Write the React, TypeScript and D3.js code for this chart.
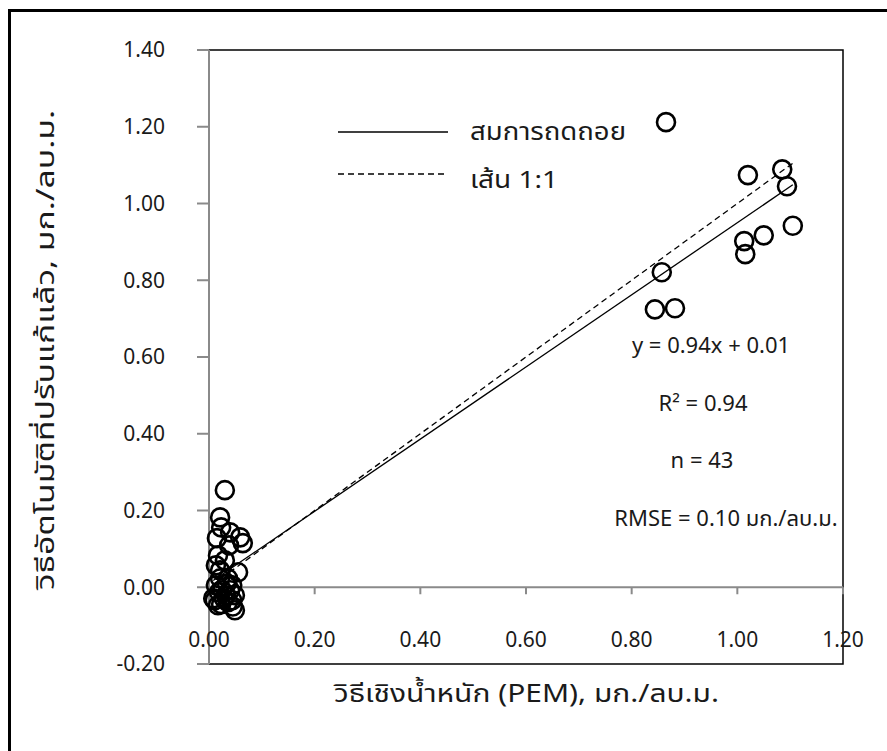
import React from "react";
import * as d3 from "d3";

// PEM (x) and corrected automatic method (y), mg/m3
const pemValues = [
  0.030, 0.021, 0.023, 0.059, 0.064, 0.015, 0.040, 0.017, 0.013, 0.055,
  0.021, 0.013, 0.025, 0.032, 0.011, 0.017, 0.028, 0.040, 0.044, 0.036,
  0.021, 0.030, 0.044, 0.049, 0.036, 0.049, 0.008, 0.019, 0.034, 0.023,
  0.045, 0.038,
  0.865, 1.020, 1.085, 1.094, 1.105, 1.013, 1.015, 1.050, 0.857, 0.844, 0.882,
];
const autoValues = [
  0.253, 0.182, 0.156, 0.130, 0.115, 0.128, 0.143, 0.083, 0.057, 0.039,
  0.023, 0.005, -0.008, -0.021, -0.034, -0.047, -0.029, -0.008, 0.005, 0.023,
  0.044, 0.070, -0.034, -0.021, -0.039, -0.060, -0.029, -0.013, 0.010, -0.044,
  -0.050, 0.109,
  1.212, 1.074, 1.089, 1.045, 0.942, 0.902, 0.868, 0.917, 0.821, 0.724, 0.727,
];

const xTicks = [0, 0.2, 0.4, 0.6, 0.8, 1.0, 1.2];
const yTicks = [-0.2, 0, 0.2, 0.4, 0.6, 0.8, 1.0, 1.2, 1.4];

const slope = 0.94;
const intercept = 0.01;

const legendLabels = ["สมการถดถอย", "เส้น 1:1"];
const statsLines = ["y = 0.94x + 0.01", "R² = 0.94", "n = 43", "RMSE = 0.10 มก./ลบ.ม."];
const xTitle = "วิธีเชิงน้ำหนัก (PEM), มก./ลบ.ม.";
const yTitle = "วิธีอัตโนมัติที่ปรับแก้แล้ว, มก./ลบ.ม.";

const FONT = "'Noto Sans Thai', 'Noto Sans', 'DejaVu Sans', sans-serif";
const GRAY = "#8a8a8a";
const TEXT = "#1a1a1a";

export default function App() {
  const W = 887, H = 751;
  const left = 209, right = 843, top = 50, bottom = 664;
  const x = d3.scaleLinear().domain([0, 1.2]).range([left, right]);
  const y = d3.scaleLinear().domain([-0.2, 1.4]).range([bottom, top]);

  const xMin = d3.min(pemValues) as number;
  const xMax = d3.max(pemValues) as number;
  const line = d3.line<[number, number]>().x(d => x(d[0])).y(d => y(d[1]));
  const regPath = line([[xMin, slope * xMin + intercept], [xMax, slope * xMax + intercept]]) || "";
  const onePath = line([[xMin, xMin], [xMax, xMax]]) || "";

  const statsY = [0.63, 0.48, 0.33, 0.18];
  const statsX = [711, 703, 702, 726];

  return (
    <svg width={W} height={H} style={{ position: "absolute", left: 0, top: 0, background: "#fff" }} fontFamily={FONT}>
      <rect x={0} y={0} width={W} height={H} fill="#fff" />
      {/* outer frame */}
      <rect x={9.5} y={10.5} width={W + 20} height={H + 20} fill="none" stroke="#000" strokeWidth={3} />

      {/* plot border */}
      <path d={`M${left},${top}H${right}V${bottom}H${left}`} fill="none" stroke="#000" strokeWidth={1.5} />
      {/* y axis */}
      <line x1={left} x2={left} y1={top} y2={bottom} stroke={GRAY} strokeWidth={2} />
      {yTicks.map(t => (
        <g key={"yt" + t}>
          <line x1={left - 12} x2={left} y1={y(t)} y2={y(t)} stroke={GRAY} strokeWidth={2} />
          <text x={165} y={y(t)} dy="0.35em" textAnchor="end" fontSize={21} fill={TEXT}>
            {t.toFixed(2)}
          </text>
        </g>
      ))}
      {/* x axis at y=0 */}
      <line x1={left} x2={right} y1={y(0)} y2={y(0)} stroke={GRAY} strokeWidth={2} />
      {xTicks.map(t => (
        <g key={"xt" + t}>
          {t > 0 && <line x1={x(t)} x2={x(t)} y1={y(0)} y2={y(0) + 7} stroke={GRAY} strokeWidth={2} />}
          <text x={x(t)} y={640} dy="0.35em" textAnchor="middle" fontSize={21} fill={TEXT}>
            {t.toFixed(2)}
          </text>
        </g>
      ))}

      {/* lines */}
      <path d={onePath} fill="none" stroke="#000" strokeWidth={1.3} strokeDasharray="6,4" />
      <path d={regPath} fill="none" stroke="#000" strokeWidth={1.3} />

      {/* points */}
      {pemValues.map((v, i) => (
        <circle key={"p" + i} cx={x(v)} cy={y(autoValues[i])} r={9} fill="none" stroke="#000" strokeWidth={2.6} />
      ))}

      {/* legend */}
      <line x1={338} x2={448} y1={132} y2={132} stroke="#000" strokeWidth={1.3} />
      <text x={470} y={132} dy="0.35em" fontSize={24} fill={TEXT} textLength={156} lengthAdjust="spacingAndGlyphs">{legendLabels[0]}</text>
      <line x1={338} x2={448} y1={174} y2={174} stroke="#000" strokeWidth={1.3} strokeDasharray="6,4" />
      <text x={470} y={180} dy="0.35em" fontSize={24} fill={TEXT} textLength={88} lengthAdjust="spacingAndGlyphs">{legendLabels[1]}</text>

      {/* stats */}
      {statsLines.map((s, i) => (
        <text key={"s" + i} x={statsX[i]} y={y(statsY[i])} dy="0.35em" textAnchor="middle" fontSize={22} fill={TEXT}>
          {s}
        </text>
      ))}

      {/* axis titles */}
      <text x={526 - 192} y={693} dy="0.35em" fontSize={25} fill={TEXT} textLength={385} lengthAdjust="spacingAndGlyphs">{xTitle}</text>
      <text transform={`translate(45,590) rotate(-90)`} dy="0.35em" fontSize={25} fill={TEXT} textLength={480} lengthAdjust="spacingAndGlyphs">{yTitle}</text>
    </svg>
  );
}
